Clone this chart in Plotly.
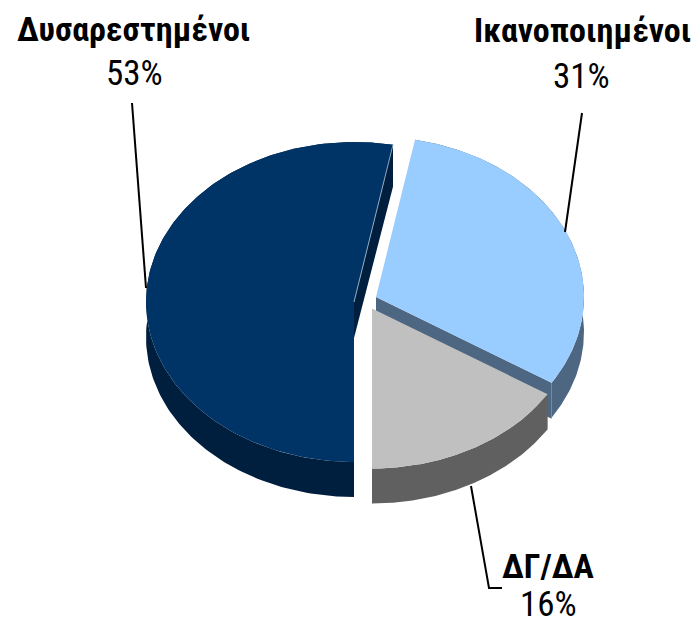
import numpy as np
import plotly.graph_objects as go

categories = ["Δυσαρεστημένοι", "Ικανοποιημένοι", "ΔΓ/ΔΑ"]
values = [53, 31, 16]
start_angles = [180.0, 10.8, 122.4]   # clockwise from top; slice 0 begins at bottom

face_colors = ["#003366", "#99CCFF", "#C0C0C0"]
wall_colors = ["#001F3F", "#4D6681", "#606060"]

# Pie layout (page-pixel axis units)
RX, RY, DEPTH = 208, 160, 36
centers = [(354, 302), (376, 297), (372, 308.5)]
label_pos = [(133, 29, 134, 73), (582, 30, 581, 76), (548, 566, 548, 604)]
leaders = [
    ([132, 146], [103, 288]),
    ([582, 565], [113, 232]),
    ([471, 489, 502], [486, 588, 588]),
]


def arc(c, a0, a1, n=160):
    t = np.radians(np.linspace(a0, a1, n))
    return c[0] + RX * np.sin(t), c[1] - RY * np.cos(t)


fig = go.Figure()


def poly(x, y, color, width=0):
    fig.add_trace(go.Scatter(
        x=list(x), y=list(y), mode="lines", fill="toself", fillcolor=color,
        line=dict(color=color, width=width), hoverinfo="skip", showlegend=False))


spans = []
for i, v in enumerate(values):
    spans.append((start_angles[i], start_angles[i] + v * 3.6))

# Walls, back to front: dark, blue, gray
for i in [0, 1, 2]:
    c = centers[i]
    a0, a1 = spans[i]
    # cut wall at the slice's clockwise end
    ex, ey = arc(c, a1, a1, 1)
    poly([c[0], ex[0], ex[0], c[0]], [c[1], ey[0], ey[0] + DEPTH + (6 if i == 0 else 0), c[1] + DEPTH],
         wall_colors[i])
    # outer curved wall
    x, y = arc(c, a0, a1)
    poly(np.r_[x, x[::-1]], np.r_[y, y[::-1] + DEPTH - 1], wall_colors[i])

# Faces, with gray drawn over the blue cut wall
for i in [0, 1, 2]:
    c = centers[i]
    a0, a1 = spans[i]
    x, y = arc(c, a0, a1)
    poly(np.r_[c[0], x], np.r_[c[1], y], face_colors[i])

# Thin highlight along the dark slice's cut edge
ex, ey = arc(centers[0], spans[0][1], spans[0][1], 1)
fig.add_trace(go.Scatter(x=[centers[0][0], ex[0]], y=[centers[0][1], ey[0]], mode="lines",
                         line=dict(color="#8FA6BF", width=1), hoverinfo="skip", showlegend=False))

# Leader lines
for lx, ly in leaders:
    fig.add_trace(go.Scatter(x=lx, y=ly, mode="lines", line=dict(color="#000000", width=2),
                             hoverinfo="skip", showlegend=False))

FONT = "Roboto Condensed, Liberation Sans, sans-serif"
for name, v, (nx, ny, px, py) in zip(categories, values, label_pos):
    fig.add_annotation(x=nx, y=ny, text=f"<b>{name}</b>", showarrow=False,
                       font=dict(family=FONT, size=34, color="#000000"))
    fig.add_annotation(x=px, y=py, text=f"{v}%", showarrow=False,
                       font=dict(family=FONT, size=35, color="#000000"))

fig.update_layout(
    width=695, height=624, autosize=False,
    margin=dict(l=0, r=0, t=0, b=0),
    paper_bgcolor="#FFFFFF", plot_bgcolor="#FFFFFF", showlegend=False,
    xaxis=dict(range=[0, 695], visible=False, fixedrange=True),
    yaxis=dict(range=[624, 0], visible=False, fixedrange=True),
)
fig.write_html("out.html", config={"displayModeBar": False},
               post_script="document.body.style.margin='0';")
